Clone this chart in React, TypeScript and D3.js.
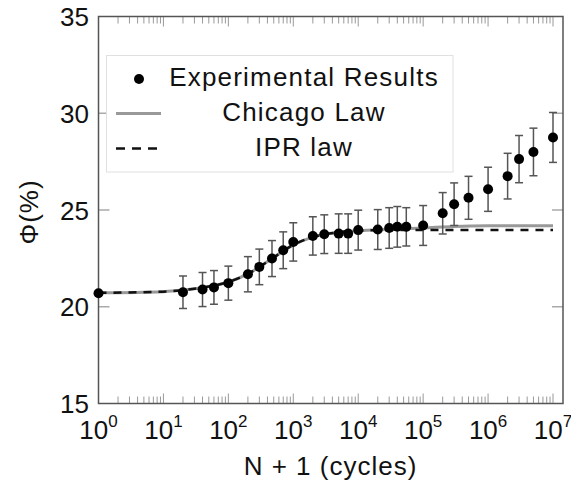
import React from 'react';
import * as d3 from 'd3';

// experimental points: N + 1 (cycles), porosity (%), error bar half-height
const cycles = [1, 20, 40, 60, 100, 200, 300, 470, 700, 1000, 2000, 3000, 5000, 7000, 1e4, 2e4, 3e4, 4e4, 5.5e4, 1e5, 2e5, 3e5, 5e5, 1e6, 2e6, 3e6, 5e6, 1e7];
const phi = [20.7, 20.75, 20.89, 21.0, 21.22, 21.68, 22.06, 22.49, 22.92, 23.35, 23.66, 23.75, 23.78, 23.78, 23.96, 23.99, 24.07, 24.13, 24.13, 24.2, 24.83, 25.3, 25.63, 26.07, 26.75, 27.63, 28.0, 28.75];
const phiErr = [0, 0.84, 0.88, 0.87, 0.88, 0.91, 0.92, 0.93, 0.95, 0.99, 0.99, 1.0, 1.02, 1.02, 1.03, 1.03, 1.05, 1.05, 0.99, 1.03, 1.07, 1.1, 1.11, 1.14, 1.18, 1.22, 1.23, 1.29];

// model curves
const modelCycles = [1, 10, 20, 50, 100, 200, 300, 500, 1000, 2000, 5000, 1e4, 3e4, 1e5, 3e5, 1e6, 1e7];
const chicago = [20.72, 20.78, 20.86, 21.05, 21.28, 21.7, 22.05, 22.55, 23.2, 23.6, 23.85, 23.93, 24.0, 24.07, 24.15, 24.18, 24.18];
const ipr = [20.72, 20.78, 20.86, 21.05, 21.28, 21.7, 22.05, 22.55, 23.2, 23.6, 23.85, 23.93, 23.96, 23.97, 23.97, 23.97, 23.97];

const xTickExps = [0, 1, 2, 3, 4, 5, 6, 7];
const yTicks = [15, 20, 25, 30, 35];
const legendLabels = ['Experimental Results', 'Chicago Law', 'IPR law'];

const W = 571;
const H = 484;
const left = 98.5;
const right = 563;
const top = 16.5;
const bottom = 403.5;
const font = '"Liberation Sans", Arial, sans-serif';

export default function App() {
  const x = d3.scaleLog().domain([1, 1e7]).range([left, 553]);
  const y = d3.scaleLinear().domain([15, 35]).range([bottom, top]);

  const line = d3.line<[number, number]>()
    .x(d => x(d[0]))
    .y(d => y(d[1]))
    .curve(d3.curveMonotoneX);

  const chicagoPath = line(modelCycles.map((c, i) => [c, chicago[i]]) as [number, number][]) || '';
  const iprPath = line(modelCycles.map((c, i) => [c, ipr[i]]) as [number, number][]) || '';

  // minor ticks 2..9 in every decade, major at each decade
  const minor: number[] = [];
  for (let e = 0; e < 7; e++) {
    for (let k = 2; k <= 9; k++) minor.push(k * Math.pow(10, e));
  }
  const major = xTickExps.slice(1).map(e => Math.pow(10, e));

  const legendX = 304;
  const rowY = [79, 113.5, 148.5];

  return (
    <svg width={W} height={H} style={{ position: 'absolute', left: 0, top: 0, background: '#fff' }} fontFamily={font}>
      <rect x={0} y={0} width={W} height={H} fill="#fff" />

      {/* x ticks, bottom and top */}
      {minor.map((v, i) => (
        <g key={'mn' + i} stroke="#999" strokeWidth={1}>
          <line x1={x(v)} x2={x(v)} y1={bottom} y2={bottom - 7} />
          <line x1={x(v)} x2={x(v)} y1={top} y2={top + 7} />
        </g>
      ))}
      {major.map((v, i) => (
        <g key={'mj' + i} stroke="#999" strokeWidth={1}>
          <line x1={x(v)} x2={x(v)} y1={bottom} y2={bottom - 10} />
          <line x1={x(v)} x2={x(v)} y1={top} y2={top + 10} />
        </g>
      ))}

      {/* y ticks, left and right */}
      {yTicks.slice(1, -1).map(t => (
        <g key={'yt' + t} stroke="#aaa" strokeWidth={1.5}>
          <line x1={left} x2={left + 11} y1={y(t)} y2={y(t)} />
          <line x1={right - 11} x2={right} y1={y(t)} y2={y(t)} />
        </g>
      ))}

      {/* frame */}
      <rect x={left} y={top} width={right - left} height={bottom - top} fill="none" stroke="#555" strokeWidth={1.5} />

      {/* tick labels */}
      {yTicks.map(t => (
        <text key={'yl' + t} x={89} y={y(t) + 9.5} textAnchor="end" fontSize={26} fill="#111">{t}</text>
      ))}
      {xTickExps.map(e => (
        <text key={'xl' + e} x={x(Math.pow(10, e))} y={439} textAnchor="middle" fontSize={26} fill="#111">
          <tspan>10</tspan>
          <tspan dy={-12.5} fontSize={17}>{e}</tspan>
        </text>
      ))}

      {/* axis titles */}
      <text x={330.5} y={475} textAnchor="middle" fontSize={26} letterSpacing={1} fill="#111">N + 1 (cycles)</text>
      <text transform="translate(38,212) rotate(-90)" textAnchor="middle" fontSize={26} letterSpacing={1} fill="#111">Φ(%)</text>

      {/* legend */}
      <rect x={106.5} y={55.5} width={346.5} height={116.5} fill="#fff" stroke="#e0e0e0" strokeWidth={1} />
      <circle cx={139} cy={rowY[0]} r={5} fill="#000" />
      <line x1={116} x2={161} y1={rowY[1]} y2={rowY[1]} stroke="#999" strokeWidth={3} />
      <line x1={116} x2={159} y1={rowY[2]} y2={rowY[2]} stroke="#111" strokeWidth={2.5} strokeDasharray="9,7" />
      {legendLabels.map((l, i) => (
        <text key={l} x={legendX} y={rowY[i] + 7} textAnchor="middle" fontSize={26} letterSpacing={1.2} fill="#111">{l}</text>
      ))}

      {/* model curves */}
      <path d={chicagoPath} fill="none" stroke="#999" strokeWidth={3} />
      <path d={iprPath} fill="none" stroke="#111" strokeWidth={2.5} strokeDasharray="8,7" />

      {/* error bars and points */}
      {cycles.map((c, i) => {
        const cx = x(c);
        const e = phiErr[i];
        if (!e) return null;
        const y0 = y(phi[i] + e);
        const y1 = y(phi[i] - e);
        return (
          <g key={'eb' + i} stroke="#555" strokeWidth={1.5}>
            <line x1={cx} x2={cx} y1={y0} y2={y1} />
            <line x1={cx - 4} x2={cx + 4} y1={y0} y2={y0} />
            <line x1={cx - 4} x2={cx + 4} y1={y1} y2={y1} />
          </g>
        );
      })}
      {cycles.map((c, i) => (
        <circle key={'pt' + i} cx={x(c)} cy={y(phi[i])} r={5} fill="#000" />
      ))}
    </svg>
  );
}
